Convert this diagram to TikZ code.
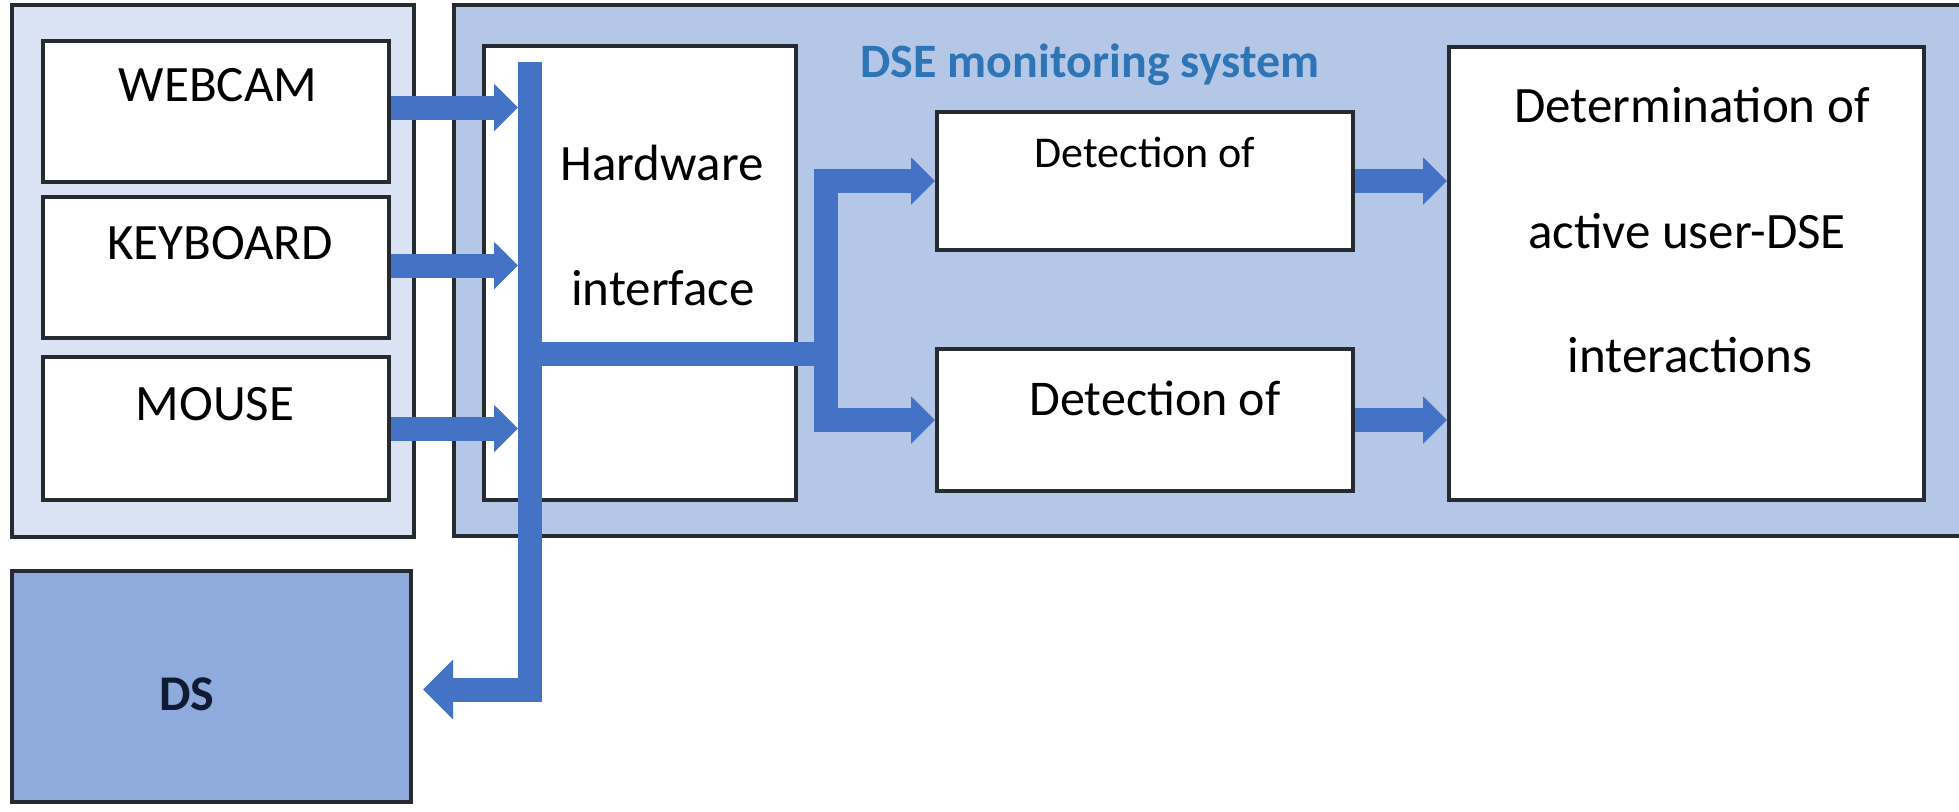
\documentclass[tikz,border=0pt]{standalone}
\usepackage{fontspec}
\setmainfont{Carlito}
\usetikzlibrary{arrows.meta}
\definecolor{outerL}{HTML}{DAE3F3}
\definecolor{outerR}{HTML}{B4C7E7}
\definecolor{dsfill}{HTML}{8FAADC}
\definecolor{flow}{HTML}{4472C4}
\definecolor{titleblue}{HTML}{2E75B6}
\definecolor{edge}{HTML}{262A31}
\definecolor{dstext}{HTML}{0F1B33}
\begin{document}
\begin{tikzpicture}[x=0.5pt,y=-0.5pt,
  panel/.style={draw=edge, line width=2pt, rectangle, inner sep=0pt},
  box/.style={panel, fill=white},
  lbl/.style={anchor=base, inner sep=0pt, font=\fontsize{25.5}{30}\selectfont},
  arr/.style={draw=flow, line width=12pt, line join=miter, -{Triangle[length=12pt,width=23pt]}},
]
\useasboundingbox (0,0) rectangle (1959,811);
\fill[white] (0,0) rectangle (1959,811);
\begin{scope}
\clip (0,0) rectangle (1959,811);
\node[panel, fill=outerL, minimum width=201pt, minimum height=266pt] (devices) at (213,271) {};
\node[panel, fill=outerR, minimum width=773pt, minimum height=265.5pt] (dse) at (1227,270.5) {};
\end{scope}
% boxes
\node[box, minimum width=173pt, minimum height=70.5pt] (webcam) at (216,111.5) {};
\node[box, minimum width=173pt, minimum height=70.5pt] (keyboard) at (216,267.5) {};
\node[box, minimum width=173pt, minimum height=71.5pt] (mouse) at (216,428.5) {};
\node[box, minimum width=156pt, minimum height=227pt] (hw) at (640,273) {};
\node[box, minimum width=208pt, minimum height=69pt] (det1) at (1145,181) {};
\node[box, minimum width=208pt, minimum height=71pt] (det2) at (1145,420) {};
\node[box, minimum width=237.5pt, minimum height=226.5pt] (determ) at (1686.5,273.5) {};
\node[panel, fill=dsfill, minimum width=199.5pt, minimum height=115.5pt] (ds) at (211.5,686.5) {};
% bus coordinates
\coordinate (busL) at (518,0);
\coordinate (busT) at (529.5,62);
\coordinate (j1) at (529.5,354);
\coordinate (j2) at (826,354);
\coordinate (dsin) at ([xshift=5pt,yshift=-1.5pt]ds.east);
% connectors
\draw[arr] ([yshift=2pt]webcam.east) -- ([yshift=2pt]webcam.east -| busL);
\draw[arr] ([yshift=1pt]keyboard.east) -- ([yshift=1pt]keyboard.east -| busL);
\draw[arr] (mouse.east) -- (mouse.east -| busL);
\draw[arr, -{Triangle[length=15pt,width=29pt]}] (busT) -- (busT |- dsin) -- (dsin);
\draw[arr] (j1) -- (j2) |- (det1.west);
\draw[arr] (j2) |- (det2.west);
\draw[arr] (det1.east) -- (det1.east -| determ.west);
\draw[arr] (det2.east) -- (det2.east -| determ.west);
% texts
\node[lbl] (twebcam) at (218,101) {WEBCAM};
\node[lbl] (tkeyboard) at (220,259) {KEYBOARD};
\node[lbl] (tmouse) at (215,420) {MOUSE};
\node[lbl] (thw1) at (662,180) {Hardware};
\node[lbl] (thw2) at (663,305) {interface};
\node[anchor=base, inner sep=0pt, font=\fontsize{24}{28}\selectfont\bfseries, text=titleblue] (title) at (1090,77) {DSE monitoring system};
\node[lbl, font=\fontsize{22}{26}\selectfont] (tdet1) at (1145,167) {Detection of};
\node[lbl, font=\fontsize{25}{30}\selectfont] (tdet2) at (1155,415) {Detection of};
\node[lbl] (tdet3) at (1692,122) {Determination of};
\node[lbl] (tdet4) at (1687,248) {active user-DSE};
\node[lbl] (tdet5) at (1690,372) {interactions};
\node[anchor=base, inner sep=0pt, font=\fontsize{25}{30}\selectfont\bfseries, text=dstext] (tds) at (187,710) {DS};
\end{tikzpicture}
\end{document}
